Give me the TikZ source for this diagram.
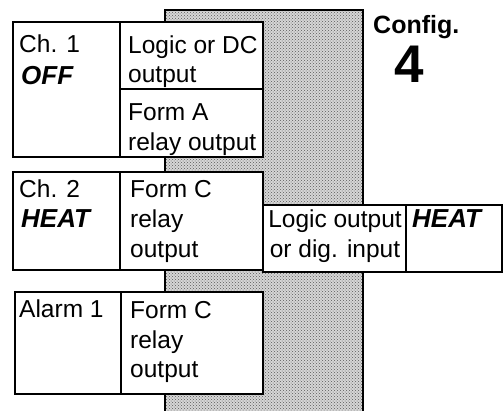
\documentclass[tikz,border=0pt]{standalone}
\usepackage{fontspec}
\setmainfont{Liberation Sans}
\usetikzlibrary{patterns}
\begin{document}
\begin{tikzpicture}[x=1pt,y=-1pt,
  box/.style={draw=black, line width=1.7pt, fill=white},
  sep/.style={draw=black, line width=1.7pt},
  lbl/.style={anchor=base west, inner sep=0pt, font=\fontsize{24.5}{29}\selectfont},
  hot/.style={anchor=base west, inner sep=0pt, font=\fontsize{26}{29}\selectfont\bfseries\itshape},
  shade/.style={fill=black!16},
  dots/.style={pattern=crosshatch dots, pattern color=black!65},
  frame/.style={draw=black, line width=2.6pt}
]
\useasboundingbox (0,0) rectangle (503,410);
% shaded module body (open at the bottom)
\fill[shade] (165,10) rectangle (363,414);
\fill[dots] (165,10) rectangle (363,414);
\draw[frame] (165,414) -- (165,10) -- (363,10) -- (363,414);
% Ch. 1
\draw[box] (13,22) rectangle (263,157);
\draw[sep] (120,22) -- (120,157);
\draw[sep] (120,89) -- (263,89);
% Ch. 2
\draw[box] (13,172) rectangle (263,270);
\draw[sep] (120,172) -- (120,270);
% Alarm 1
\draw[box] (15,292) rectangle (263,394);
\draw[sep] (121,292) -- (121,394);
% Logic output box
\draw[box] (263,205) rectangle (502,272);
\draw[sep] (406,205) -- (406,272);
% texts
\node[lbl] (c1) at (19,52) {Ch. 1};
\node[hot] (off) at (21,84) {OFF};
\node[lbl] (l1a) at (128,53) {Logic or DC};
\node[lbl] (l1b) at (128,82) {output};
\node[lbl] (l2a) at (128,120) {Form A};
\node[lbl] (l2b) at (128,150) {relay output};
\node[lbl] (c2) at (19,197) {Ch. 2};
\node[hot] (heat1) at (21,227) {HEAT};
\node[lbl] (l3a) at (130,197) {Form C};
\node[lbl] (l3b) at (130,227) {relay};
\node[lbl] (l3c) at (130,257) {output};
\node[lbl] (a1) at (19,317) {Alarm 1};
\node[lbl] (l4a) at (130,318) {Form C};
\node[lbl] (l4b) at (130,348) {relay};
\node[lbl] (l4c) at (130,377) {output};
\node[lbl, anchor=base] (l5a) at (335,227) {Logic output};
\node[lbl, anchor=base] (l5b) at (335,257) {or dig. input};
\node[hot] (heat2) at (412,227) {HEAT};
\node[anchor=base west, inner sep=0pt, font=\fontsize{25}{30}\selectfont\bfseries] (cfg) at (373,33) {Config.};
\node[anchor=base, inner sep=0pt, font=\fontsize{53}{60}\selectfont\bfseries] (num) at (409,82) {4};
\end{tikzpicture}
\end{document}
